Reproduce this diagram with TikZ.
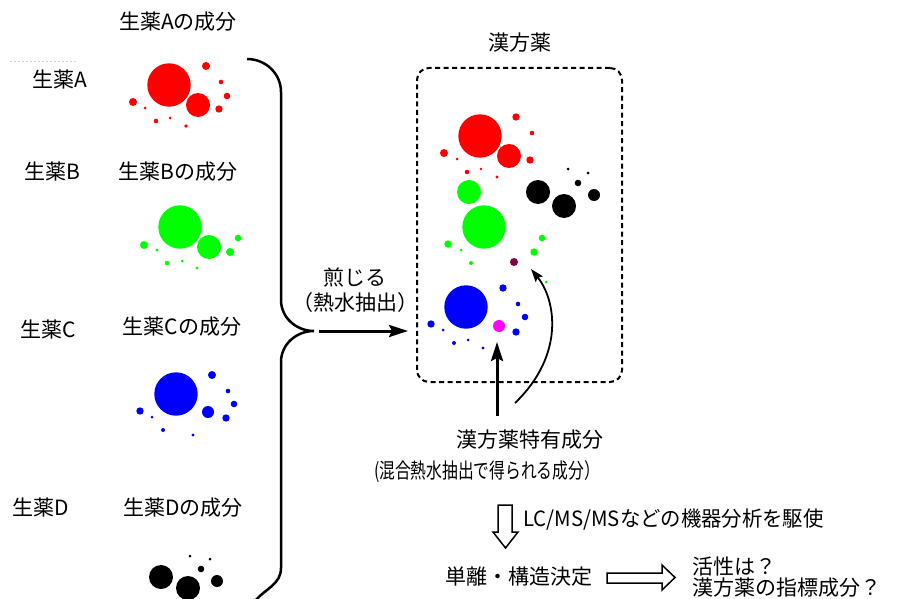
\documentclass[tikz,border=0pt]{standalone}
\usepackage{fontspec}
\usepackage{graphicx}
\setmainfont{Noto Sans CJK JP}
\usetikzlibrary{arrows.meta}
\definecolor{cred}{RGB}{255,0,0}
\definecolor{cgreen}{RGB}{0,255,0}
\definecolor{cblue}{RGB}{0,0,255}
\definecolor{cmag}{RGB}{255,0,255}
\definecolor{cmaroon}{RGB}{128,0,64}
\begin{document}
\begin{tikzpicture}[x=1pt,y=-1pt,
  lbl/.style={font=\fontsize{21}{25}\selectfont, inner sep=0pt, text=black},
  thickarrow/.style={line width=3pt, -{Stealth[length=19pt,width=12pt,inset=3pt]}},
  thinarrow/.style={line width=1.8pt, -{Stealth[length=13pt,width=9pt,inset=2pt]}},
  hollow/.style={draw=black, line width=1.5pt, fill=white},
  dashbox/.style={draw, line width=2pt, dash pattern=on 5pt off 3.5pt, rounded corners=12pt}]
\useasboundingbox (0,0) rectangle (904,599);

% faint artifact
\draw[black!18, line width=1pt, dash pattern=on 1.5pt off 2.5pt] (10,62) -- (77,62);

% ---- left labels ----
\node[lbl] (hA) at (60,80) {生薬A};
\node[lbl] (cA) at (178,22) {生薬Aの成分};
\node[lbl] (hB) at (52,172) {生薬B};
\node[lbl] (cB) at (178,172) {生薬Bの成分};
\node[lbl] (hC) at (48,330) {生薬C};
\node[lbl] (cC) at (182,327) {生薬Cの成分};
\node[lbl] (hD) at (41,508) {生薬D};
\node[lbl] (cD) at (183,508) {生薬Dの成分};

% ---- component dots (left) ----
\foreach \x/\y/\r in {169/85/21.7, 198/105/12, 206/66/4, 221/82/2.3, 227/96/3.3, 219/109/3.7,
  133/102/4, 145/108/1.5, 156/121/2.3, 170/118/1.5, 186/126/1.8}
  \fill[cred] (\x,\y) circle (\r pt);
\foreach \x/\y/\r in {180/227/21.7, 209/247/12, 238/238/3.3, 230/252/4, 144/245/4,
  157/250/1.7, 167/263/2.3, 182/261/1.5, 197/268/1.7}
  \fill[cgreen] (\x,\y) circle (\r pt);
\foreach \x/\y/\r in {176/394/21.7, 208/412/6, 212/375/4, 228/391/2.3, 234/404/3.3,
  226/418/3.7, 140/411/3.7, 152/417/1.5, 163/430/2, 193/435/1.7}
  \fill[cblue] (\x,\y) circle (\r pt);
\foreach \x/\y/\r in {161/577/12, 188/588/12, 217/581/6, 201/569/3.3, 190/556/1.5, 210/559/1.5}
  \fill[black] (\x,\y) circle (\r pt);

% ---- brace ----
\coordinate (bt) at (247,59);
\coordinate (cusp) at (314,331);
\coordinate (bb) at (255,601);
\draw[line width=2.5pt] (bt) to[out=0,in=90] (281,92) -- (281,300)
  to[out=-90,in=180] (cusp) to[out=180,in=90] (281,362) -- (281,568) to[out=-90,in=50] (bb);

% ---- main arrow ----
\node[lbl] (sen) at (355,278) {煎じる};
\node[lbl] (netsu) at (355,303) {（熱水抽出）};
\coordinate (arS) at (319,331);
\coordinate (arE) at (408,331);
\draw[thickarrow] (arS) -- (arE);

% ---- kampo box ----
\node[lbl] (kt) at (520,43) {漢方薬};
\node[dashbox, minimum width=205pt, minimum height=314pt, inner sep=0pt] (box) at (519.5,225) {};

\foreach \x/\y/\r in {480/136/21.7, 509/156/12, 516/117/3.7, 532/133/2.3, 530/160/3.7,
  444/153/4, 457/159/1.5, 467/172/2.3, 481/169/1.3, 497/177/1.7}
  \fill[cred] (\x,\y) circle (\r pt);
\foreach \x/\y/\r in {538/192/12, 564/206/12, 594/195/6, 578/183/3.3, 568/169/1.5, 588/173/1.5}
  \fill[black] (\x,\y) circle (\r pt);
\foreach \x/\y/\r in {469/192/12, 484/227/21.7, 448/244/3.7, 461/250/1.5, 471/263/2,
  534/252/3.7, 542/238/3.3, 546/282/1.5}
  \fill[cgreen] (\x,\y) circle (\r pt);
\fill[cmaroon] (514,262) circle (4pt);
\foreach \x/\y/\r in {466/307/21.7, 503/288/3.7, 518/304/2.3, 525/317/3.3, 516/332/3.7,
  431/324/3.7, 443/330/1.5, 454/343/2, 468/340/1.5, 483/348/1.7}
  \fill[cblue] (\x,\y) circle (\r pt);
\fill[cmag] (499,326) circle (6pt);

% ---- arrows into box ----
\coordinate (upS) at (497,416);
\coordinate (upE) at (497,342);
\draw[thickarrow] (upS) -- (upE);
\coordinate (cvS) at (515,403);
\coordinate (cvE) at (531,269);
\draw[thinarrow] (cvS) .. controls (565,355) and (556,300) .. (cvE);

% ---- bottom texts ----
\node[lbl] (tok) at (530,440) {漢方薬特有成分};
\node[lbl] (kon) at (487,472) {\scalebox{0.75}[1]{(混合熱水抽出で得られる成分）}};
\node[lbl, anchor=west] (lcms) at (523,520) {\scalebox{0.97}[1]{LC/MS/MSなどの機器分析を駆使}};
\node[lbl] (tanri) at (519,577) {単離・構造決定};
\node[lbl, anchor=west] (kas) at (692,567) {活性は？};
\node[lbl, anchor=west] (shi) at (692,588) {漢方薬の指標成分？};

% hollow down arrow
\draw[hollow] (498,505) -- (512,505) -- (512,532) -- (518,532) -- (505.5,548)
  -- (493,532) -- (498,532) -- cycle;
% hollow right arrow
\draw[hollow] (607,573) -- (662,573) -- (662,565) -- (675,577.5) -- (662,590)
  -- (662,583) -- (607,583) -- cycle;
\end{tikzpicture}
\end{document}
